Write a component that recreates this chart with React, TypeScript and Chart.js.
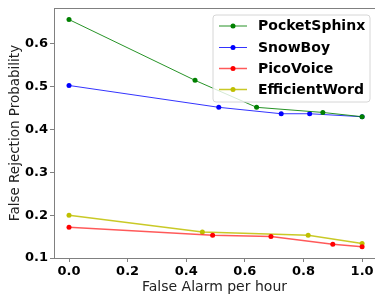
import React, { useEffect, useRef } from "react";
import { Chart, registerables } from "chart.js";

Chart.register(...registerables);

const seriesNames = ["PocketSphinx", "SnowBoy", "PicoVoice", "EfficientWord"];
const pocketSphinxX = [0, 0.43, 0.64, 0.866, 1.0];
const pocketSphinxY = [0.657, 0.515, 0.452, 0.44, 0.43];
const snowBoyX = [0, 0.511, 0.724, 0.821, 1.0];
const snowBoyY = [0.503, 0.452, 0.437, 0.437, 0.43];
const picoVoiceX = [0, 0.49, 0.689, 0.9, 1.0];
const picoVoiceY = [0.172, 0.153, 0.15, 0.132, 0.126];
const efficientWordX = [0, 0.455, 0.816, 1.0];
const efficientWordY = [0.2, 0.161, 0.153, 0.134];
const xTicks = [0, 0.2, 0.4, 0.6, 0.8, 1.0];
const yTicks = [0.1, 0.2, 0.3, 0.4, 0.5, 0.6];
const xTitle = "False Alarm per hour";
const yTitle = "False Rejection Probability";

const lineColors = ["rgba(0,128,0,0.85)", "rgba(0,0,255,0.8)", "rgba(255,0,0,0.65)", "rgba(191,191,0,0.85)"];
const markerColors = ["#008000", "#0000ff", "#ff0000", "#bfbf00"];

const zip = (xs: number[], ys: number[]) => xs.map((x, i) => ({ x, y: ys[i] }));

const FONT = "'DejaVu Sans', sans-serif";

const legendPlugin = {
  id: "mplLegend",
  afterDatasetsDraw(chart: any) {
    const ctx = chart.ctx;
    const ca = chart.chartArea;
    ctx.save();
    // top spine
    ctx.strokeStyle = "#808080";
    ctx.lineWidth = 1;
    ctx.beginPath();
    ctx.moveTo(ca.left, ca.top + 0.5);
    ctx.lineTo(ca.right, ca.top + 0.5);
    ctx.stroke();

    const bx = 213, by = 15, bw = 157, bh = 87, r = 3;
    ctx.beginPath();
    ctx.moveTo(bx + r, by);
    ctx.lineTo(bx + bw - r, by);
    ctx.arcTo(bx + bw, by, bx + bw, by + r, r);
    ctx.lineTo(bx + bw, by + bh - r);
    ctx.arcTo(bx + bw, by + bh, bx + bw - r, by + bh, r);
    ctx.lineTo(bx + r, by + bh);
    ctx.arcTo(bx, by + bh, bx, by + bh - r, r);
    ctx.lineTo(bx, by + r);
    ctx.arcTo(bx, by, bx + r, by, r);
    ctx.closePath();
    ctx.fillStyle = "rgba(255,255,255,0.8)";
    ctx.fill();
    ctx.strokeStyle = "#d6d6d6";
    ctx.stroke();

    const rows = [26, 47.5, 68.5, 89.5];
    chart.data.datasets.forEach((ds: any, i: number) => {
      const y = rows[i];
      ctx.strokeStyle = ds.borderColor;
      ctx.lineWidth = ds.borderWidth;
      ctx.beginPath();
      ctx.moveTo(219, y);
      ctx.lineTo(247, y);
      ctx.stroke();
      ctx.fillStyle = ds.pointBackgroundColor;
      ctx.beginPath();
      ctx.arc(233, y, 2.5, 0, Math.PI * 2);
      ctx.fill();
      ctx.fillStyle = "#000";
      ctx.font = `bold 14px ${FONT}`;
      ctx.textBaseline = "middle";
      ctx.textAlign = "left";
      ctx.fillText(ds.label, 258, y + 0.5);
    });
    ctx.restore();
  },
};

export default function App() {
  const ref = useRef<HTMLCanvasElement | null>(null);
  useEffect(() => {
    if (!ref.current) return;
    const xs = [pocketSphinxX, snowBoyX, picoVoiceX, efficientWordX];
    const ys = [pocketSphinxY, snowBoyY, picoVoiceY, efficientWordY];
    const widths = [1, 1, 1.5, 1.5];
    const chart = new Chart(ref.current, {
      type: "line",
      data: {
        datasets: seriesNames.map((name, i) => ({
          label: name,
          data: zip(xs[i], ys[i]),
          borderColor: lineColors[i],
          borderWidth: widths[i],
          pointBackgroundColor: markerColors[i],
          pointBorderColor: markerColors[i],
          pointRadius: 2.5,
          pointBorderWidth: 0,
          tension: 0,
          fill: false,
        })),
      },
      options: {
        responsive: false,
        animation: false,
        devicePixelRatio: 1,
        layout: { autoPadding: false, padding: { top: 8, right: 0, left: 0, bottom: 0 } },
        plugins: { legend: { display: false }, tooltip: { enabled: false } },
        scales: {
          x: {
            type: "linear",
            min: -0.0512,
            max: 1.044,
            afterBuildTicks: (s: any) => {
              s.ticks = xTicks.map((v) => ({ value: v }));
            },
            afterFit: (s: any) => {
              s.height = 39;
              s.paddingLeft = 0;
              s.paddingRight = 0;
            },
            grid: { drawOnChartArea: false, drawTicks: true, tickLength: 4, color: "#808080" },
            border: { display: true, color: "#808080" },
            ticks: {
              color: "#000",
              padding: 2,
              maxRotation: 0,
              font: { family: FONT, size: 13, weight: "bold" },
              callback: (v: any) => Number(v).toFixed(1),
            },
            title: {
              display: true,
              text: xTitle,
              color: "#222",
              font: { family: FONT, size: 14 },
              padding: { top: 0, bottom: 1.5 },
            },
          },
          y: {
            type: "linear",
            min: 0.1,
            max: 0.684,
            afterBuildTicks: (s: any) => {
              s.ticks = yTicks.map((v) => ({ value: v }));
            },
            afterFit: (s: any) => {
              s.width = 54;
              s.paddingTop = 0;
              s.paddingBottom = 0;
            },
            grid: { drawOnChartArea: false, drawTicks: true, tickLength: 4, color: "#808080" },
            border: { display: true, color: "#808080" },
            ticks: {
              color: "#000",
              padding: 2,
              font: { family: FONT, size: 13, weight: "bold" },
              callback: (v: any) => Number(v).toFixed(1),
            },
            title: {
              display: true,
              text: yTitle,
              color: "#222",
              font: { family: FONT, size: 13.5 },
              padding: { top: 7, bottom: 0 },
            },
          },
        },
      },
      plugins: [legendPlugin],
    } as any);
    return () => chart.destroy();
  }, []);
  return (
    <div style={{ position: "absolute", left: 0, top: 0, width: 375, height: 297, background: "#fff" }}>
      <canvas ref={ref} width={375} height={297} />
    </div>
  );
}
